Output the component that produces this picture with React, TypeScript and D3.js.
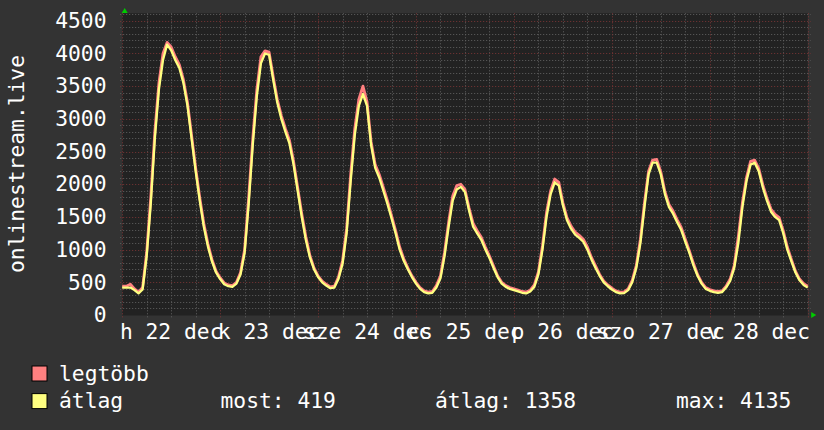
import React from "react";
import * as d3 from "d3";

// hourly values, Dec 22 00:00 .. Dec 29 00:00
const avgValues: number[] = [
  420, 420, 420, 380, 330, 390, 900, 1700, 2700, 3450, 3900, 4135, 4050, 3900, 3780, 3550, 3200, 2700, 2200, 1750, 1350, 1050, 820, 650,
  550, 470, 440, 430, 480, 620, 950, 1700, 2600, 3350, 3850, 4000, 3980, 3600, 3250, 3000, 2800, 2620, 2300, 1900, 1500, 1150, 880, 700,
  580, 500, 450, 410, 420, 550, 780, 1250, 2050, 2750, 3200, 3380, 3200, 2600, 2250, 2100, 1900, 1700, 1480, 1250, 1000, 830, 700, 580,
  480, 400, 350, 330, 340, 420, 560, 900, 1350, 1750, 1920, 1960, 1880, 1600, 1350, 1250, 1150, 1000, 870, 720, 580, 480, 430, 400,
  380, 360, 340, 330, 360, 430, 620, 1000, 1500, 1850, 2030, 1980, 1680, 1450, 1320, 1230, 1180, 1120, 1000, 850, 720, 600, 500, 440,
  390, 350, 330, 335, 380, 500, 720, 1100, 1650, 2150, 2330, 2330, 2150, 1850, 1650, 1550, 1420, 1300, 1120, 950, 760, 600, 480, 400,
  370, 350, 340, 350, 420, 520, 720, 1100, 1650, 2050, 2300, 2330, 2200, 1950, 1750, 1580, 1500, 1450, 1250, 1000, 820, 650, 530, 460,
  419,
];

const maxValues: number[] = [
  440, 440, 470, 400, 350, 420, 960, 1800, 2800, 3550, 4000, 4170, 4100, 3950, 3830, 3600, 3250, 2750, 2250, 1800, 1400, 1090, 850, 670,
  570, 490, 460, 450, 500, 650, 1000, 1800, 2700, 3450, 3950, 4040, 4020, 3650, 3300, 3050, 2850, 2670, 2350, 1950, 1550, 1200, 910, 720,
  600, 520, 470, 430, 440, 580, 830, 1320, 2150, 2850, 3300, 3500, 3260, 2650, 2300, 2150, 1950, 1750, 1520, 1290, 1040, 860, 720, 600,
  500, 420, 370, 350, 360, 450, 600, 960, 1420, 1820, 1980, 2000, 1920, 1640, 1400, 1290, 1190, 1040, 900, 750, 600, 500, 450, 420,
  400, 380, 360, 350, 380, 460, 660, 1060, 1570, 1900, 2080, 2030, 1720, 1490, 1360, 1270, 1220, 1160, 1040, 880, 750, 620, 520, 460,
  410, 370, 350, 355, 400, 530, 760, 1160, 1720, 2200, 2370, 2380, 2190, 1890, 1690, 1590, 1460, 1340, 1160, 980, 790, 620, 500, 420,
  390, 370, 360, 370, 440, 550, 760, 1200, 1720, 2100, 2350, 2370, 2240, 1990, 1790, 1620, 1540, 1490, 1290, 1040, 850, 670, 550, 480,
  440,
];

const dayLabels: string[] = ["h 22 dec", "k 23 dec", "sze 24 dec", "cs 25 dec", "p 26 dec", "szo 27 dec", "v 28 dec"];
const yTicks: number[] = [0, 500, 1000, 1500, 2000, 2500, 3000, 3500, 4000, 4500];
const yTitle = "onlinestream.live";
const legendNames: string[] = ["legtöbb", "átlag"];
const legendColors: string[] = ["#ff8080", "#ffff80"];
const statTexts: string[] = ["most: 419", "átlag: 1358", "max: 4135"];

const W = 824;
const H = 430;
const FONT = "'DejaVu Sans Mono', monospace";

export default function App() {
  const x = d3.scaleLinear().domain([0, 168]).range([122.2, 807.7]);
  const y = d3.scaleLinear().domain([0, 4500]).range([315, 20.8]);
  const plotTop = 13.3;
  const plotBottom = 315.5;
  const left = x(0);
  const right = x(168);

  const line = d3
    .line<number>()
    .x((_, i) => x(i))
    .y((v) => y(v));

  const minorH = d3.range(100, 4700, 100).filter((v) => v % 500 !== 0 && y(v) >= plotTop);
  const majorH = yTicks.filter((v) => v > 0);
  const minorV = d3.range(0, 169, 6).filter((h) => h % 24 !== 0);
  const majorV = d3.range(0, 169, 24);

  return (
    <svg
      width={W}
      height={H}
      style={{ position: "fixed", left: 0, top: 0, display: "block" }}
      fontFamily={FONT}
    >
      <rect x={0} y={0} width={W} height={H} fill="#333333" />
      <rect x={left} y={plotTop} width={right - left} height={plotBottom - plotTop} fill="#222222" />

      {/* minor grid */}
      {minorH.map((v) => (
        <line key={"mh" + v} x1={left - 2} x2={right + 3} y1={Math.round(y(v)) + 0.5} y2={Math.round(y(v)) + 0.5}
          stroke="#606060" strokeWidth={1} strokeDasharray="1 2" />
      ))}
      {minorV.map((h) => (
        <line key={"mv" + h} x1={Math.round(x(h)) + 0.5} x2={Math.round(x(h)) + 0.5} y1={plotTop} y2={plotBottom + 3}
          stroke="#606060" strokeWidth={1} strokeDasharray="1 2" />
      ))}
      {/* major grid */}
      {majorH.map((v) => (
        <line key={"Mh" + v} x1={left - 2} x2={right + 3} y1={Math.round(y(v)) + 0.5} y2={Math.round(y(v)) + 0.5}
          stroke="#7a3535" strokeWidth={1} strokeDasharray="1 2" />
      ))}
      {majorV.map((h) => (
        <line key={"Mv" + h} x1={Math.round(x(h)) + 0.5} x2={Math.round(x(h)) + 0.5} y1={plotTop} y2={plotBottom + 3}
          stroke="#7a3535" strokeWidth={1} strokeDasharray="1 2" />
      ))}

      {/* series */}
      <path d={line(maxValues) ?? ""} fill="none" stroke="#ff8080" strokeWidth={2.8} strokeLinejoin="round" />
      <path d={line(avgValues) ?? ""} fill="none" stroke="#ffff80" strokeWidth={2.3} strokeLinejoin="round" />

      {/* arrows */}
      <path d={`M${left - 0.5},${plotTop - 0.3} L${left + 2.5},${plotTop - 5.3} L${left + 5.5},${plotTop - 0.3} Z`} fill="#00cc00" />
      <path d={`M${right + 3.5},${y(0) - 3} L${right + 8.5},${y(0)} L${right + 3.5},${y(0) + 3} Z`} fill="#00cc00" />

      {/* y tick labels */}
      {yTicks.map((v) => (
        <text key={"yl" + v} x={106.5} y={y(v) + 7.2} textAnchor="end" fill="#ffffff" fontSize={21.3}>
          {v}
        </text>
      ))}

      {/* x tick labels */}
      {dayLabels.map((s, i) => (
        <text key={"xl" + i} x={x(12 + 24 * i)} y={339} textAnchor="middle" fill="#ffffff" fontSize={21.3}>
          {s}
        </text>
      ))}

      {/* y title */}
      <text transform="translate(24,164) rotate(-90)" textAnchor="middle" fill="#ffffff" fontSize={21.3}>
        {yTitle}
      </text>

      {/* legend */}
      {legendNames.map((n, i) => (
        <g key={"lg" + i}>
          <rect x={32} y={366 + i * 27.6} width={15} height={15} fill={legendColors[i]} stroke="#000" strokeWidth={1} />
          <text x={59} y={380.7 + i * 27.6} fill="#ffffff" fontSize={21.3}>
            {n}
          </text>
        </g>
      ))}
      {statTexts.map((s, i) => (
        <text key={"st" + i} x={[220.5, 435, 676][i]} y={408.3} fill="#ffffff" fontSize={21.3}>
          {s}
        </text>
      ))}
    </svg>
  );
}
